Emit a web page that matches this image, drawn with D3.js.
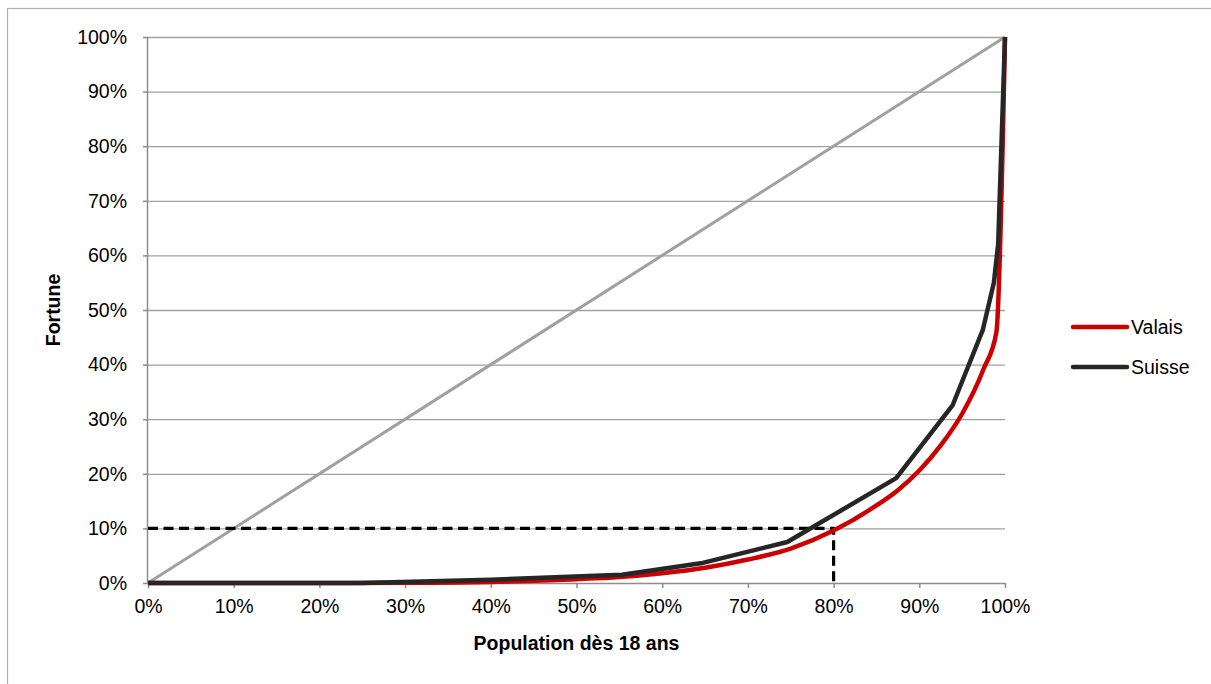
<!DOCTYPE html>
<html>
<head>
<meta charset="utf-8">
<script src="https://cdn.jsdelivr.net/npm/d3@7"></script>
<style>
  body { margin: 0; background: #fff; }
  text { font-family: "Liberation Sans", Arial, sans-serif; fill: #000; }
</style>
</head>
<body>
<div class="chart"></div>
<script>
// data (percent)
var valaisPop     = [0, 10, 20, 30, 40, 50, 55, 60, 65, 70, 75, 80, 85, 87.5, 90, 92.5, 95, 97.5, 99, 100];
var valaisFortune = [0, 0, 0, 0.05, 0.2, 0.7, 1.1, 1.8, 2.8, 4.3, 6.3, 9.6, 14.2, 17.0, 20.6, 25.2, 31.0, 39.2, 46.0, 100];

var suissePop     = [0, 25, 40, 55.3, 64.5, 74.6, 87.3, 93.9, 97.4, 98.7, 99.2, 100];
var suisseFortune = [0, 0, 0.6, 1.5, 3.6, 7.5, 19.2, 32.6, 46.3, 55, 62, 100];

var eqPop = [0, 100];
var eqFortune = [0, 100];

var refPop = [0, 80, 80];
var refFortune = [10, 10, 0];

var xTicks = [0, 10, 20, 30, 40, 50, 60, 70, 80, 90, 100];
var yTicks = [0, 10, 20, 30, 40, 50, 60, 70, 80, 90, 100];

var seriesNames = ["Valais", "Suisse"];
var seriesColors = ["#cc0000", "#262626"];

var svgWidth = 1211;
var svgHeight = 684;
var margin = { top: 37, right: 206, bottom: 101, left: 148 };
var width = svgWidth - margin.left - margin.right;
var height = svgHeight - margin.top - margin.bottom;

var gridColor = "#a0a0a0";
var axisColor = "#8c8c8c";
var fontSize = "19.5px";

var $svg = d3.select(".chart")
    .append("svg")
    .attr("width", svgWidth)
    .attr("height", svgHeight);

// outer frame
$svg.append("rect")
    .attr("x", 7.5)
    .attr("y", 8.5)
    .attr("width", svgWidth + 20)
    .attr("height", svgHeight + 20)
    .attr("fill", "none")
    .attr("stroke", "#b0b0b0")
    .attr("stroke-width", 1.2);

var $chartGroup = $svg.append("g")
    .attr("transform", `translate(${margin.left}, ${margin.top})`);

var xScale = d3.scaleLinear().domain([0, 100]).range([0, width]);
var yScale = d3.scaleLinear().domain([0, 100]).range([height, 0]);

// gridlines
$chartGroup.append("g")
    .attr("class", "grid")
    .call(d3.axisLeft(yScale).tickValues(yTicks.slice(1)).tickSize(-width).tickFormat(""))
    .call(g => g.select(".domain").remove())
    .call(g => g.selectAll("line").attr("stroke", gridColor).attr("stroke-width", 1.3));

// axes
var xAxis = d3.axisBottom(xScale).tickValues(xTicks).tickSize(5).tickPadding(6).tickFormat(d => d + "%");
var yAxis = d3.axisLeft(yScale).tickValues(yTicks).tickSize(5).tickPadding(16).tickFormat(d => d + "%");

$chartGroup.append("g")
    .attr("transform", `translate(0,${height})`)
    .call(xAxis)
    .call(g => g.select(".domain").attr("stroke", axisColor).attr("stroke-width", 1.5).attr("d", `M0,0.5H${width}`))
    .call(g => g.selectAll(".tick line").attr("stroke", axisColor).attr("stroke-width", 1.5))
    .call(g => g.selectAll("text").style("font-size", fontSize).attr("dy", "0.95em"));

$chartGroup.append("g")
    .call(yAxis)
    .call(g => g.select(".domain").attr("stroke", axisColor).attr("stroke-width", 1.5).attr("d", `M-0.5,0V${height}`))
    .call(g => g.selectAll(".tick line").attr("stroke", axisColor).attr("stroke-width", 1.5))
    .call(g => g.selectAll("text").style("font-size", fontSize));

var line = d3.line()
    .x(d => xScale(d[0]))
    .y(d => yScale(d[1]));

// equality diagonal
$chartGroup.append("path")
    .datum(eqPop.map((d, i) => [d, eqFortune[i]]))
    .attr("fill", "none")
    .attr("stroke", "#a0a0a0")
    .attr("stroke-width", 3)
    .attr("d", line);

// 80% / 10% reference
$chartGroup.append("path")
    .datum(refPop.map((d, i) => [d, refFortune[i]]))
    .attr("fill", "none")
    .attr("stroke", "#000")
    .attr("stroke-width", 3.2)
    .attr("stroke-dasharray", "10,5.5")
    .attr("d", line);

// Lorenz curves
var smooth = d3.line()
    .x(d => xScale(d[0]))
    .y(d => yScale(d[1]))
    .curve(d3.curveMonotoneX);

$chartGroup.append("path")
    .datum(valaisPop.map((d, i) => [d, valaisFortune[i]]))
    .attr("fill", "none")
    .attr("stroke", seriesColors[0])
    .attr("stroke-width", 4.5)
    .attr("stroke-linejoin", "round")
    .attr("d", smooth);

$chartGroup.append("path")
    .datum(suissePop.map((d, i) => [d, suisseFortune[i]]))
    .attr("fill", "none")
    .attr("stroke", seriesColors[1])
    .attr("stroke-width", 4.5)
    .attr("stroke-linejoin", "round")
    .attr("d", line);

// axis titles
$svg.append("text")
    .attr("x", margin.left + width / 2)
    .attr("y", 650)
    .attr("text-anchor", "middle")
    .style("font-size", fontSize)
    .style("font-weight", "bold")
    .text("Population dès 18 ans");

$svg.append("text")
    .attr("transform", `translate(60,${margin.top + height / 2}) rotate(-90)`)
    .attr("text-anchor", "middle")
    .style("font-size", fontSize)
    .style("font-weight", "bold")
    .text("Fortune");

// legend
var $legend = $svg.append("g")
    .selectAll(".legendItem")
    .data(seriesNames)
    .enter()
    .append("g")
    .attr("class", "legendItem")
    .attr("transform", (d, i) => `translate(1073,${327 + i * 40})`);

$legend.append("line")
    .attr("x1", 0)
    .attr("x2", 54)
    .attr("stroke", (d, i) => seriesColors[i])
    .attr("stroke-width", 4.5)
    .attr("stroke-linecap", "round");

$legend.append("text")
    .attr("x", 58)
    .attr("dy", "0.35em")
    .style("font-size", fontSize)
    .text(d => d);
</script>
</body>
</html>
